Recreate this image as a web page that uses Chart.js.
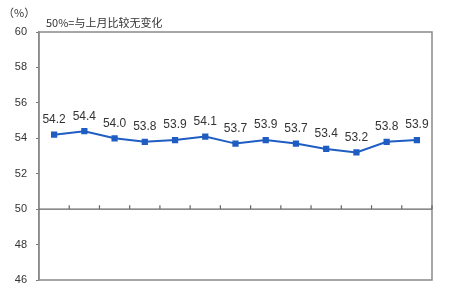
<!DOCTYPE html>
<html>
<head>
<meta charset="utf-8">
<script src="https://cdn.jsdelivr.net/npm/chart.js@4"></script>
<style>
    html, body { margin: 0; padding: 0; background: #fff; }
    #wrap { position: relative; width: 453px; height: 290px; }
</style>
</head>
<body>
<div id="wrap"><canvas id="pmi-chart" width="453" height="290"></canvas></div>
<script>
// Monthly values (13 months), x labels not legible in the source
const months = ['', '', '', '', '', '', '', '', '', '', '', '', ''];
const pmiValues = [54.2, 54.4, 54.0, 53.8, 53.9, 54.1, 53.7, 53.9, 53.7, 53.4, 53.2, 53.8, 53.9];
const yTicks = [46, 48, 50, 52, 54, 56, 58, 60];

const lineColor = '#1f5dc2';
const textColor = '#333333';

// Frame, upward tick marks on the 50 line, point labels and header notes
const decorPlugin = {
    id: 'decor',
    afterDraw(chart) {
        const ctx = chart.ctx;
        const area = chart.chartArea;
        const x = chart.scales.x;
        const y = chart.scales.y;
        ctx.save();

        // plot frame
        ctx.strokeStyle = '#8a8a8a';
        ctx.lineWidth = 1.5;
        ctx.strokeRect(area.left, area.top, area.right - area.left, area.bottom - area.top);

        // baseline at 50 with category boundary ticks
        const y50 = y.getPixelForValue(50);
        ctx.strokeStyle = '#666';
        ctx.lineWidth = 1.2;
        ctx.beginPath();
        ctx.moveTo(area.left, y50);
        ctx.lineTo(area.right, y50);
        const step = (x.getPixelForValue(1) - x.getPixelForValue(0));
        for (let i = 0; i < months.length; i++) {
            const px = x.getPixelForValue(i) + step / 2;
            ctx.moveTo(px, y50);
            ctx.lineTo(px, y50 - 4);
        }
        ctx.stroke();

        // value labels
        const meta = chart.getDatasetMeta(0);
        ctx.fillStyle = textColor;
        ctx.font = '12px "Liberation Sans", Arial, sans-serif';
        ctx.textAlign = 'center';
        ctx.textBaseline = 'middle';
        meta.data.forEach((pt, i) => {
            ctx.fillText(pmiValues[i].toFixed(1), pt.x, pt.y - 15);
        });

        // header notes
        ctx.font = '11px "Noto Sans CJK SC", sans-serif';
        ctx.textAlign = 'left';
        ctx.fillText('（%）', 3, 13);
        ctx.fillText('50%=与上月比较无变化', 46, 23);
        ctx.restore();
    }
};

const chart = new Chart(document.getElementById('pmi-chart').getContext('2d'), {
    type: 'line',
    data: {
        labels: months,
        datasets: [{
            data: pmiValues,
            borderColor: lineColor,
            backgroundColor: lineColor,
            borderWidth: 2,
            pointStyle: 'rect',
            pointRadius: 3,
            pointBackgroundColor: lineColor,
            pointBorderColor: lineColor,
            tension: 0
        }]
    },
    options: {
        responsive: false,
        animation: false,
        devicePixelRatio: 1,
        layout: { padding: { top: 32, right: 21, bottom: 10, left: 0 } },
        plugins: {
            legend: { display: false },
            tooltip: { enabled: false }
        },
        scales: {
            x: {
                type: 'category',
                offset: true,
                display: false
            },
            y: {
                min: 46,
                max: 60,
                afterFit(scale) {
                    scale.width = 39;
                    scale.paddingTop = 0;
                    scale.paddingBottom = 0;
                },
                afterBuildTicks(scale) { scale.ticks = yTicks.map(v => ({ value: v })); },
                ticks: {
                    color: textColor,
                    padding: 9,
                    font: { family: '"Liberation Sans", Arial, sans-serif', size: 11 }
                },
                grid: {
                    drawOnChartArea: false,
                    tickLength: 3,
                    color: '#777'
                },
                border: { color: '#8a8a8a', width: 1.5 }
            }
        }
    },
    plugins: [decorPlugin]
});
</script>
</body>
</html>
